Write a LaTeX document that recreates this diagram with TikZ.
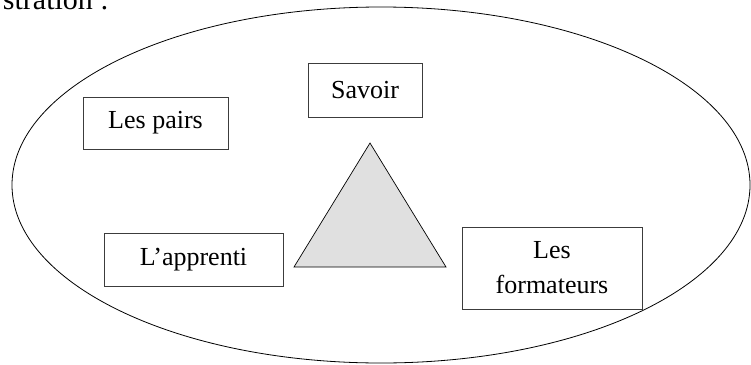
\documentclass[tikz,border=0pt]{standalone}
\usepackage{fontspec}
\setmainfont{Liberation Serif}
\definecolor{trifill}{RGB}{224,224,224}
\definecolor{boxline}{RGB}{60,60,60}
\begin{document}
\begin{tikzpicture}[x=1pt,y=-1pt,
  labelbox/.style={draw=boxline,line width=0.8pt,rectangle,inner sep=0pt,
    font=\fontsize{26}{35}\selectfont,align=center}]
\useasboundingbox (0,0) rectangle (751,364);
\begin{scope}
\clip (0,0) rectangle (751,364);
\node[anchor=base east,inner sep=0pt,font=\fontsize{30}{36}\selectfont] (title) at (109,9.5) {stration :};
\draw[line width=0.8pt] (381,185) ellipse [x radius=369, y radius=178];
\end{scope}
\node[labelbox,minimum width=145pt,minimum height=52pt] (pairs) at (155.5,123) {Les pairs};
\node[labelbox,minimum width=114pt,minimum height=54pt] (savoir) at (365,90) {Savoir};
\node[labelbox,minimum width=179pt,minimum height=53pt] (apprenti) at (193.5,259.5) {L’apprenti};
\node[labelbox,minimum width=180pt,minimum height=82pt] (formateurs) at (552,268) {Les\\formateurs};
\coordinate (apex) at (370,143);
\coordinate (bl) at (294,267);
\coordinate (br) at (446,267);
\draw[line width=0.7pt,fill=trifill] (apex) -- (bl) -- (br) -- cycle;
\end{tikzpicture}
\end{document}
